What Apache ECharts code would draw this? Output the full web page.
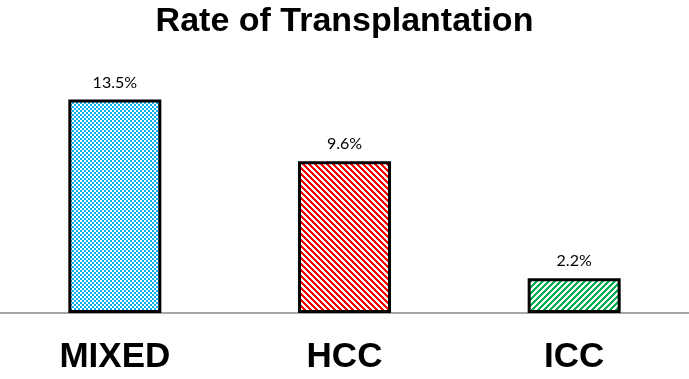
<!DOCTYPE html>
<html>
<head>
<meta charset="utf-8">
<script src="https://cdn.jsdelivr.net/npm/echarts@6/dist/echarts.min.js"></script>
<style>
  html, body { margin: 0; padding: 0; background: #fff; }
  #chart { width: 689px; height: 379px; }
</style>
</head>
<body>
<div id="chart"></div>
<script>
const categories = ['MIXED', 'HCC', 'ICC'];
const rates = [13.5, 9.6, 2.2];

// small repeating fills, like the hatched bars in the original
function makeTile(size, fg, test) {
  const c = document.createElement('canvas');
  c.width = size; c.height = size;
  const ctx = c.getContext('2d');
  ctx.fillStyle = '#fff';
  ctx.fillRect(0, 0, size, size);
  ctx.fillStyle = fg;
  for (let x = 0; x < size; x++) {
    for (let y = 0; y < size; y++) {
      if (test(x, y)) ctx.fillRect(x, y, 1, 1);
    }
  }
  return c;
}

const checker = makeTile(4, '#00B0F0', (x, y) => ((x >> 1) + (y >> 1)) % 2 === 1);
const downStripe = makeTile(6, '#FF0000', (x, y) => ((x - y + 12) % 6) < 3);
const upStripe = makeTile(6, '#00B050', (x, y) => ((x + y) % 6) < 3);
const fills = [checker, downStripe, upStripe];

const chart = echarts.init(document.getElementById('chart'));

chart.setOption({
  animation: false,
  title: {
    text: 'Rate of Transplantation',
    left: 'center',
    top: 0,
    textStyle: { fontFamily: 'Arial, Liberation Sans', fontSize: 34, fontWeight: 'bold', color: '#000' }
  },
  grid: { left: 0, right: 0, top: 60, bottom: 66 },
  xAxis: {
    type: 'category',
    data: categories,
    axisLine: { lineStyle: { color: '#888', width: 1.5 } },
    axisTick: { show: false },
    axisLabel: {
      margin: 27,
      fontFamily: 'Arial, Liberation Sans',
      fontSize: 35,
      fontWeight: 'bold',
      color: '#000'
    }
  },
  yAxis: {
    type: 'value',
    min: 0,
    max: 16,
    show: false,
    splitLine: { show: false }
  },
  series: [{
    type: 'bar',
    barWidth: 93,
    data: rates.map((v, i) => ({
      value: v,
      itemStyle: {
        color: { image: fills[i], repeat: 'repeat' },
        borderColor: '#000',
        borderWidth: 3
      }
    })),
    label: {
      show: true,
      position: 'top',
      distance: 9,
      formatter: p => p.value + '%',
      fontFamily: 'Lato, Open Sans, Arial',
      fontSize: 16,
      color: '#000'
    }
  }]
});
</script>
</body>
</html>
